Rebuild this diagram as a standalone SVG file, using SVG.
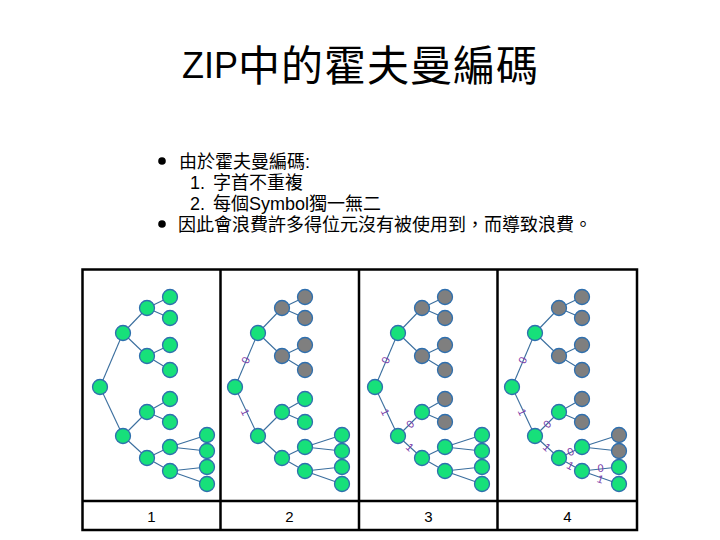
<svg xmlns="http://www.w3.org/2000/svg" width="720" height="540" viewBox="0 0 720 540">
<style>
.t{font-family:"Liberation Sans","Noto Sans CJK TC",sans-serif;fill:#000}
.cjk{font-family:"Noto Sans CJK TC","Noto Sans CJK SC",sans-serif;fill:#000}
.e{stroke:#3a6e9e;stroke-width:1.1;fill:none}
.n{stroke:#2f6fae;stroke-width:1.3}
.g{fill:#17e07a}
.x{fill:#7f7f7f}
.lb{font-family:"Liberation Sans",sans-serif;font-size:11px;fill:#7a3aa8;text-anchor:middle;dominant-baseline:central}
.frame{fill:none;stroke:#000;stroke-width:2.5}
.num{font-family:"Liberation Sans",sans-serif;font-size:15px;text-anchor:middle;fill:#000}
</style>
<rect width="720" height="540" fill="#fff"/>

<g id="title">
<text class="t"><tspan x="182" y="78" font-size="36" font-family="Liberation Sans">ZIP</tspan><tspan class="cjk" x="238" y="81" font-size="42" letter-spacing="1" font-family="Noto Sans CJK TC">中的霍夫曼編碼</tspan></text>
</g>

<g id="bullets">
<circle cx="162" cy="161" r="3.8" fill="#000"/>
<circle cx="162" cy="224" r="3.8" fill="#000"/>
<text class="t" font-size="18" x="179" y="168">由於霍夫曼編碼:</text>
<text class="t" font-size="18" x="190" y="189">1.</text>
<text class="t" font-size="18" x="213" y="189">字首不重複</text>
<text class="t" font-size="18" x="190" y="210">2.</text>
<text class="t" font-size="18" x="213" y="210">每個Symbol獨一無二</text>
<text class="t" font-size="18" x="178" y="231">因此會浪費許多得位元沒有被使用到，而導致浪費。</text>
</g>

<g id="table">
<rect class="frame" x="82.5" y="269.5" width="554.5" height="260.5"/>
<line class="frame" x1="220.5" y1="269.5" x2="220.5" y2="530"/>
<line class="frame" x1="359" y1="269.5" x2="359" y2="530"/>
<line class="frame" x1="497.5" y1="269.5" x2="497.5" y2="530"/>
<line class="frame" x1="82.5" y1="501" x2="637" y2="501"/>
<text class="num" x="151.5" y="522">1</text>
<text class="num" x="289.5" y="522">2</text>
<text class="num" x="428.5" y="522">3</text>
<text class="num" x="567.5" y="522">4</text>
</g>

<defs>
<g id="edges">
<line class="e" x1="100" y1="387" x2="123" y2="333"/>
<line class="e" x1="100" y1="387" x2="123" y2="436"/>
<line class="e" x1="123" y1="333" x2="147" y2="308"/>
<line class="e" x1="123" y1="333" x2="147" y2="356"/>
<line class="e" x1="147" y1="308" x2="170" y2="297"/>
<line class="e" x1="147" y1="308" x2="170" y2="318"/>
<line class="e" x1="147" y1="356" x2="170" y2="345"/>
<line class="e" x1="147" y1="356" x2="170" y2="370"/>
<line class="e" x1="123" y1="436" x2="147" y2="412"/>
<line class="e" x1="123" y1="436" x2="147" y2="458"/>
<line class="e" x1="147" y1="412" x2="170" y2="399"/>
<line class="e" x1="147" y1="412" x2="170" y2="422"/>
<line class="e" x1="147" y1="458" x2="170" y2="447"/>
<line class="e" x1="147" y1="458" x2="170" y2="471"/>
<line class="e" x1="170" y1="447" x2="207" y2="435"/>
<line class="e" x1="170" y1="447" x2="207" y2="451"/>
<line class="e" x1="170" y1="471" x2="207" y2="467"/>
<line class="e" x1="170" y1="471" x2="207" y2="484"/>
</g>
</defs>

<g id="connectors">
<use href="#edges"/>
<use href="#edges" x="135"/>
<use href="#edges" x="275"/>
<use href="#edges" x="412"/>
</g>

<g id="edge-labels">
<text class="lb" transform="translate(245.5,360) rotate(-67)">0</text>
<text class="lb" transform="translate(245.5,412) rotate(65)">1</text>

<text class="lb" transform="translate(385.5,360) rotate(-67)">0</text>
<text class="lb" transform="translate(385.5,412) rotate(65)">1</text>
<text class="lb" transform="translate(410,424) rotate(-45)">0</text>
<text class="lb" transform="translate(410,447) rotate(42.5)">1</text>

<text class="lb" transform="translate(522.5,360) rotate(-67)">0</text>
<text class="lb" transform="translate(522.5,412) rotate(65)">1</text>
<text class="lb" transform="translate(547,424) rotate(-45)">0</text>
<text class="lb" transform="translate(547,447) rotate(42.5)">1</text>
<text class="lb" transform="translate(570.5,451.5) rotate(-25.6)">0</text>
<text class="lb" transform="translate(570.5,465.5) rotate(29.5)">1</text>
<text class="lb" transform="translate(600.5,468) rotate(-6.2)">0</text>
<text class="lb" transform="translate(600.5,479) rotate(19.4)">1</text>
</g>

<g id="panel1">
<g id="p1-R"><circle class="n g" cx="100" cy="387" r="7.5"/></g>
<g id="p1-A"><circle class="n g" cx="123" cy="333" r="7.5"/></g>
<g id="p1-B"><circle class="n g" cx="123" cy="436" r="7.5"/></g>
<g id="p1-A1"><circle class="n g" cx="147" cy="308" r="7.5"/></g>
<g id="p1-A2"><circle class="n g" cx="147" cy="356" r="7.5"/></g>
<g id="p1-B1"><circle class="n g" cx="147" cy="412" r="7.5"/></g>
<g id="p1-B2"><circle class="n g" cx="147" cy="458" r="7.5"/></g>
<g id="p1-A1a"><circle class="n g" cx="170" cy="297" r="7.5"/></g>
<g id="p1-A1b"><circle class="n g" cx="170" cy="318" r="7.5"/></g>
<g id="p1-A2a"><circle class="n g" cx="170" cy="345" r="7.5"/></g>
<g id="p1-A2b"><circle class="n g" cx="170" cy="370" r="7.5"/></g>
<g id="p1-B1a"><circle class="n g" cx="170" cy="399" r="7.5"/></g>
<g id="p1-B1b"><circle class="n g" cx="170" cy="422" r="7.5"/></g>
<g id="p1-B2a"><circle class="n g" cx="170" cy="447" r="7.5"/></g>
<g id="p1-B2b"><circle class="n g" cx="170" cy="471" r="7.5"/></g>
<g id="p1-B2a1"><circle class="n g" cx="207" cy="435" r="7.5"/></g>
<g id="p1-B2a2"><circle class="n g" cx="207" cy="451" r="7.5"/></g>
<g id="p1-B2b1"><circle class="n g" cx="207" cy="467" r="7.5"/></g>
<g id="p1-B2b2"><circle class="n g" cx="207" cy="484" r="7.5"/></g>
</g>

<g id="panel2" transform="translate(135,0)">
<g id="p2-R"><circle class="n g" cx="100" cy="387" r="7.5"/></g>
<g id="p2-A"><circle class="n g" cx="123" cy="333" r="7.5"/></g>
<g id="p2-B"><circle class="n g" cx="123" cy="436" r="7.5"/></g>
<g id="p2-A1"><circle class="n x" cx="147" cy="308" r="7.5"/></g>
<g id="p2-A2"><circle class="n x" cx="147" cy="356" r="7.5"/></g>
<g id="p2-B1"><circle class="n g" cx="147" cy="412" r="7.5"/></g>
<g id="p2-B2"><circle class="n g" cx="147" cy="458" r="7.5"/></g>
<g id="p2-A1a"><circle class="n x" cx="170" cy="297" r="7.5"/></g>
<g id="p2-A1b"><circle class="n x" cx="170" cy="318" r="7.5"/></g>
<g id="p2-A2a"><circle class="n x" cx="170" cy="345" r="7.5"/></g>
<g id="p2-A2b"><circle class="n x" cx="170" cy="370" r="7.5"/></g>
<g id="p2-B1a"><circle class="n g" cx="170" cy="399" r="7.5"/></g>
<g id="p2-B1b"><circle class="n g" cx="170" cy="422" r="7.5"/></g>
<g id="p2-B2a"><circle class="n g" cx="170" cy="447" r="7.5"/></g>
<g id="p2-B2b"><circle class="n g" cx="170" cy="471" r="7.5"/></g>
<g id="p2-B2a1"><circle class="n g" cx="207" cy="435" r="7.5"/></g>
<g id="p2-B2a2"><circle class="n g" cx="207" cy="451" r="7.5"/></g>
<g id="p2-B2b1"><circle class="n g" cx="207" cy="467" r="7.5"/></g>
<g id="p2-B2b2"><circle class="n g" cx="207" cy="484" r="7.5"/></g>
</g>

<g id="panel3" transform="translate(275,0)">
<g id="p3-R"><circle class="n g" cx="100" cy="387" r="7.5"/></g>
<g id="p3-A"><circle class="n g" cx="123" cy="333" r="7.5"/></g>
<g id="p3-B"><circle class="n g" cx="123" cy="436" r="7.5"/></g>
<g id="p3-A1"><circle class="n x" cx="147" cy="308" r="7.5"/></g>
<g id="p3-A2"><circle class="n x" cx="147" cy="356" r="7.5"/></g>
<g id="p3-B1"><circle class="n g" cx="147" cy="412" r="7.5"/></g>
<g id="p3-B2"><circle class="n g" cx="147" cy="458" r="7.5"/></g>
<g id="p3-A1a"><circle class="n x" cx="170" cy="297" r="7.5"/></g>
<g id="p3-A1b"><circle class="n x" cx="170" cy="318" r="7.5"/></g>
<g id="p3-A2a"><circle class="n x" cx="170" cy="345" r="7.5"/></g>
<g id="p3-A2b"><circle class="n x" cx="170" cy="370" r="7.5"/></g>
<g id="p3-B1a"><circle class="n x" cx="170" cy="399" r="7.5"/></g>
<g id="p3-B1b"><circle class="n x" cx="170" cy="422" r="7.5"/></g>
<g id="p3-B2a"><circle class="n g" cx="170" cy="447" r="7.5"/></g>
<g id="p3-B2b"><circle class="n g" cx="170" cy="471" r="7.5"/></g>
<g id="p3-B2a1"><circle class="n g" cx="207" cy="435" r="7.5"/></g>
<g id="p3-B2a2"><circle class="n g" cx="207" cy="451" r="7.5"/></g>
<g id="p3-B2b1"><circle class="n g" cx="207" cy="467" r="7.5"/></g>
<g id="p3-B2b2"><circle class="n g" cx="207" cy="484" r="7.5"/></g>
</g>

<g id="panel4" transform="translate(412,0)">
<g id="p4-R"><circle class="n g" cx="100" cy="387" r="7.5"/></g>
<g id="p4-A"><circle class="n g" cx="123" cy="333" r="7.5"/></g>
<g id="p4-B"><circle class="n g" cx="123" cy="436" r="7.5"/></g>
<g id="p4-A1"><circle class="n x" cx="147" cy="308" r="7.5"/></g>
<g id="p4-A2"><circle class="n x" cx="147" cy="356" r="7.5"/></g>
<g id="p4-B1"><circle class="n g" cx="147" cy="412" r="7.5"/></g>
<g id="p4-B2"><circle class="n g" cx="147" cy="458" r="7.5"/></g>
<g id="p4-A1a"><circle class="n x" cx="170" cy="297" r="7.5"/></g>
<g id="p4-A1b"><circle class="n x" cx="170" cy="318" r="7.5"/></g>
<g id="p4-A2a"><circle class="n x" cx="170" cy="345" r="7.5"/></g>
<g id="p4-A2b"><circle class="n x" cx="170" cy="370" r="7.5"/></g>
<g id="p4-B1a"><circle class="n x" cx="170" cy="399" r="7.5"/></g>
<g id="p4-B1b"><circle class="n x" cx="170" cy="422" r="7.5"/></g>
<g id="p4-B2a"><circle class="n g" cx="170" cy="447" r="7.5"/></g>
<g id="p4-B2b"><circle class="n g" cx="170" cy="471" r="7.5"/></g>
<g id="p4-B2a1"><circle class="n x" cx="207" cy="435" r="7.5"/></g>
<g id="p4-B2a2"><circle class="n x" cx="207" cy="451" r="7.5"/></g>
<g id="p4-B2b1"><circle class="n g" cx="207" cy="467" r="7.5"/></g>
<g id="p4-B2b2"><circle class="n g" cx="207" cy="484" r="7.5"/></g>
</g>
</svg>
